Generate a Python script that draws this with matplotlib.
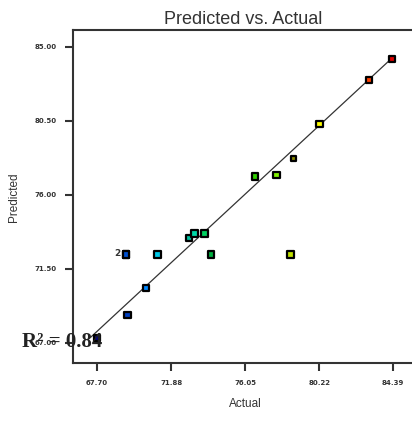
import matplotlib
matplotlib.use("Agg")
import matplotlib.pyplot as plt
import numpy as np

actual = [67.70, 69.43, 69.34, 69.34, 71.12, 70.46, 72.89, 73.19, 73.75, 74.13,
          78.59, 76.61, 77.83, 78.77, 80.24, 83.02, 84.32]
predicted = [67.30, 68.70, 72.39, 72.39, 72.39, 70.33, 73.37, 73.67, 73.67, 72.39,
             72.39, 77.11, 77.21, 78.23, 80.30, 83.00, 84.27]
point_colors = ["#000090", "#0040c0", "#0050d0", "#0050d0", "#00c8e8", "#0088ff",
                "#00c0a0", "#00d8a8", "#00d060", "#00b040", "#c0e000", "#30d000",
                "#80f000", "#8a8a00", "#ffff00", "#ff4000", "#e00000"]
xticks = [67.70, 71.88, 76.05, 80.22, 84.39]
yticks = [67.00, 71.50, 76.00, 80.50, 85.00]
r2_text = "R\u00b2 = 0.84"

fig = plt.figure(figsize=(4.12, 4.34), dpi=100)
ax = fig.add_axes([73/412, 1-363/434, 1-73/412, (363-30)/434])

lo, hi = 67.35, 84.40
ax.plot([lo, hi], [lo, hi], color="#333333", lw=0.9, zorder=1)

sizes = [22] * len(actual)
sizes[13] = 12
ax.scatter(actual, predicted, marker="s", s=sizes, c=point_colors, edgecolors="black",
           linewidths=1.6, zorder=3)
ax.text(actual[2] - 0.3, predicted[2] + 0.05, "2", fontsize=6.5, fontweight="bold",
        ha="right", va="center", color="#333333")

ax.set_xlim(66.35, 85.45)
ax.set_ylim(65.78, 86.03)
ax.set_xticks(xticks)
ax.set_xticklabels([f"{v:.2f}" for v in xticks])
ax.set_yticks(yticks)
ax.set_yticklabels([f"{v:.2f}" for v in yticks])
ax.tick_params(direction="out", length=6, width=1.5, labelsize=5, colors="#333333", pad=6)
for lbl in ax.get_xticklabels() + ax.get_yticklabels():
    lbl.set_fontweight("bold")
for s in ["left", "bottom", "top"]:
    ax.spines[s].set_linewidth(1.5)
    ax.spines[s].set_color("#333333")
ax.spines["right"].set_visible(False)

fig.text(243/412, 1-19/434, "Predicted vs. Actual", ha="center", va="center",
         fontsize=13, family="Liberation Sans", color="#333333")
fig.text(245/412, 1-404/434, "Actual", ha="center", va="center",
         fontsize=8.5, family="Liberation Sans", color="#333333")
fig.text(14/412, 1-197/434, "Predicted", ha="center", va="center", rotation=90,
         fontsize=8.5, family="Liberation Sans", color="#333333")
fig.text(22/412, 1-342/434, r2_text, ha="left", va="center", fontsize=15,
         fontweight="bold", family="Liberation Serif", color="#222222", zorder=10)

fig.savefig("out.png", dpi=100)
